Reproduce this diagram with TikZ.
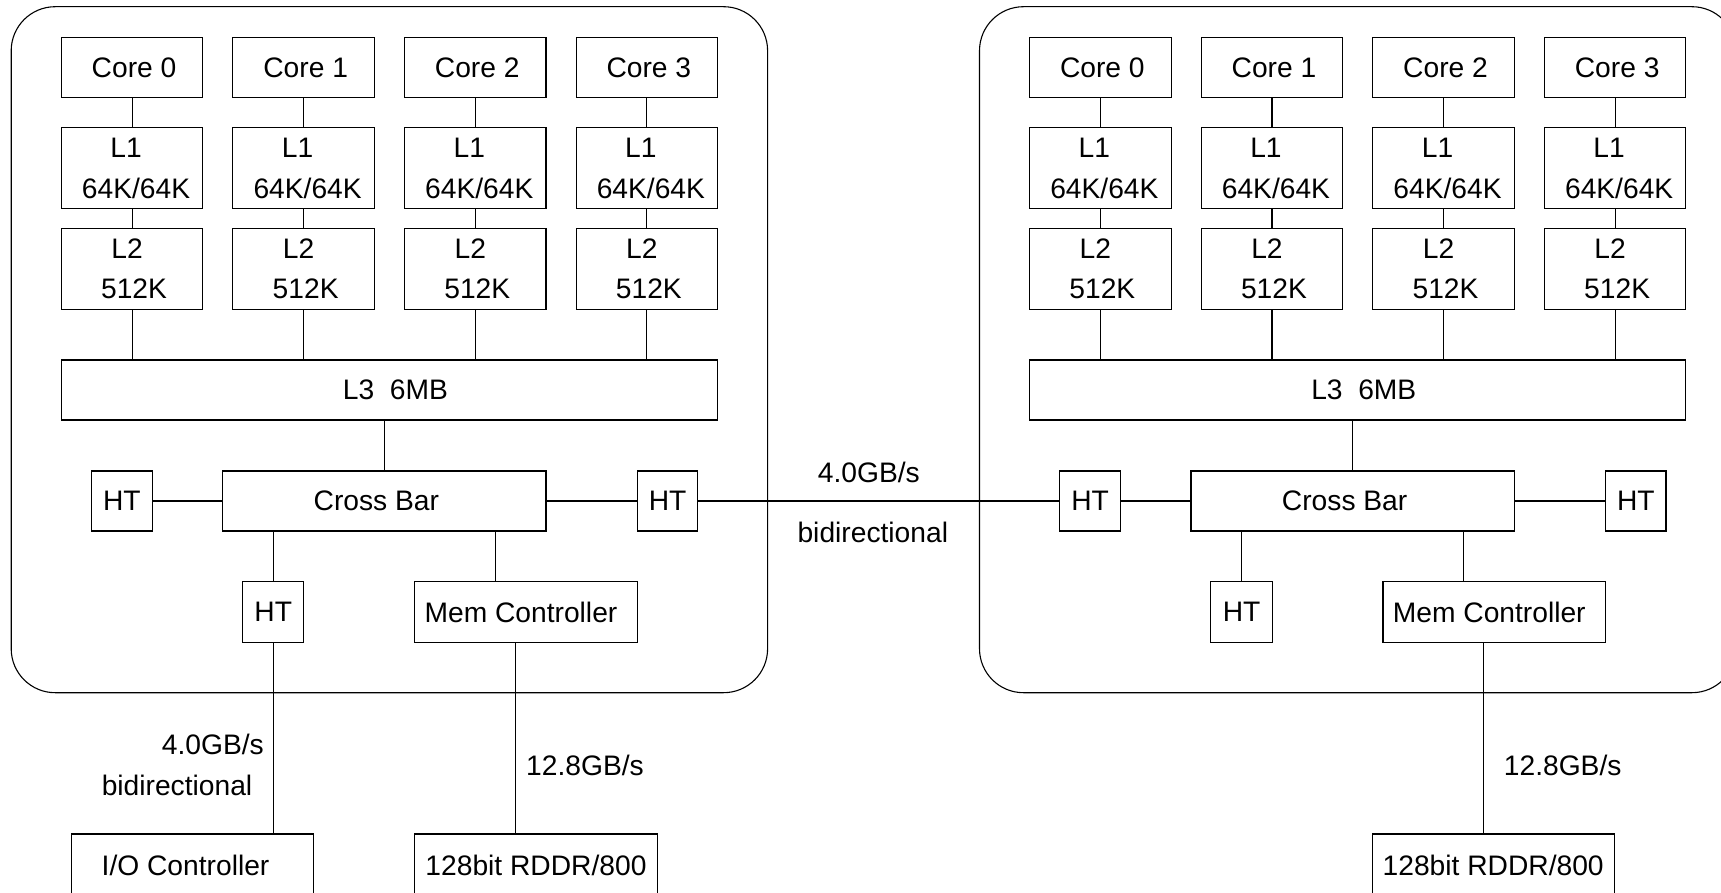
\documentclass[tikz,border=0pt]{standalone}
\usepackage{fontspec}
\setmainfont{Liberation Sans}
\newcommand\cpuchip{%
  % outer rounded package
  \draw[pkg] (11.2,6.7) rectangle (767.6,692.7);
  % cores, L1, L2
  \foreach \i in {0,1,2,3}{
    \node[blk, minimum width=141.5, minimum height=60.4] (core\i) at (132.05+171.6*\i,67.5) {\hspace*{4pt}Core \i};
    \node[blk, minimum width=141.5, minimum height=81] (lone\i) at (132.05+171.6*\i,168.2) {L1\hspace*{12pt}\mbox{}\\\hspace*{8pt}64K/64K};
    \node[blk, minimum width=141.5, minimum height=80.6] (ltwo\i) at (132.05+171.6*\i,269) {L2\hspace*{10pt}\mbox{}\\\hspace*{4pt}512K};
  }
  \node[blk, minimum width=656.3, minimum height=60] (lthree) at (389.45,390) {\hspace*{12pt}L3\ \ 6MB};
  \node[blk, minimum width=323.3, minimum height=60] (xbar) at (384.35,501) {Cross Bar\hspace*{16pt}};
  \node[blk, minimum width=60.8, minimum height=60] (htl) at (121.8,501) {HT};
  \node[blk, minimum width=60.3, minimum height=60] (htr) at (667.55,501) {HT};
  \node[blk, minimum width=61.3, minimum height=60.6] (htb) at (273.25,612) {HT};
  \node[blk, minimum width=222.7, minimum height=60.6] (mem) at (526,612) {Mem Controller\hspace*{10pt}};
  \foreach \i in {0,1,2,3}{
    \draw[wire] (core\i.south) -- (lone\i.north);
    \draw[wire] (lone\i.south) -- (ltwo\i.north);
    \draw[wire] (ltwo\i.south) -- (ltwo\i.south |- lthree.north);
  }
  \draw[wire] (xbar.north) -- (xbar.north |- lthree.south);
  \draw[wire] (htl.east) -- (xbar.west);
  \draw[wire] (xbar.east) -- (htr.west);
  \draw[wire] (htb.north) -- (htb.north |- xbar.south);
  \draw[wire] ([xshift=-30.6]mem.north) -- ([xshift=-30.6]mem.north |- xbar.south);
}
\begin{document}
\begin{tikzpicture}[x=1pt,y=-1pt,
  blk/.style={draw, line width=1.1pt, inner sep=0pt, align=center,
    font=\fontsize{28.2}{40.5}\selectfont},
  txt/.style={inner sep=0pt, font=\fontsize{28.2}{34}\selectfont},
  wire/.style={draw, line width=1.1pt},
  pkg/.style={draw, line width=1.1pt, rounded corners=44pt}]
\useasboundingbox (0,0) rectangle (1721,893);
\clip (0,0) rectangle (1721,893);
\begin{scope}[name prefix=L-]
  \cpuchip
\end{scope}
\begin{scope}[shift={(968.3,0)}, name prefix=R-]
  \cpuchip
\end{scope}
% external devices
\node[blk, minimum width=242.1, minimum height=62] (io) at (192.55,865) {I/O Controller\hspace*{14pt}};
\node[blk, minimum width=242.6, minimum height=62] (rddrL) at (536,865) {128bit RDDR/800};
\node[blk, minimum width=241.8, minimum height=62] (rddrR) at (1493.2,865) {128bit RDDR/800};
% external connectors
\draw[wire] (L-htb.south) -- (L-htb.south |- io.north);
\draw[wire] ([xshift=-10.2]L-mem.south) -- ([xshift=-10.2]L-mem.south |- rddrL.north);
\draw[wire] ([xshift=-11]R-mem.south) -- ([xshift=-11]R-mem.south |- rddrR.north);
\draw[wire] (L-htr.east) -- (R-htl.west);
% labels
\node[txt] (lblmid1) at (868.8,472.3) {4.0GB/s};
\node[txt] (lblmid2) at (872.8,532.7) {bidirectional};
\node[txt, anchor=east] (lblio1) at (264,744) {4.0GB/s};
\node[txt] (lblio2) at (177,785) {bidirectional};
\node[txt, anchor=west] (lblmemL) at (526,765) {12.8GB/s};
\node[txt, anchor=west] (lblmemR) at (1503.7,765) {12.8GB/s};
\end{tikzpicture}
\end{document}
